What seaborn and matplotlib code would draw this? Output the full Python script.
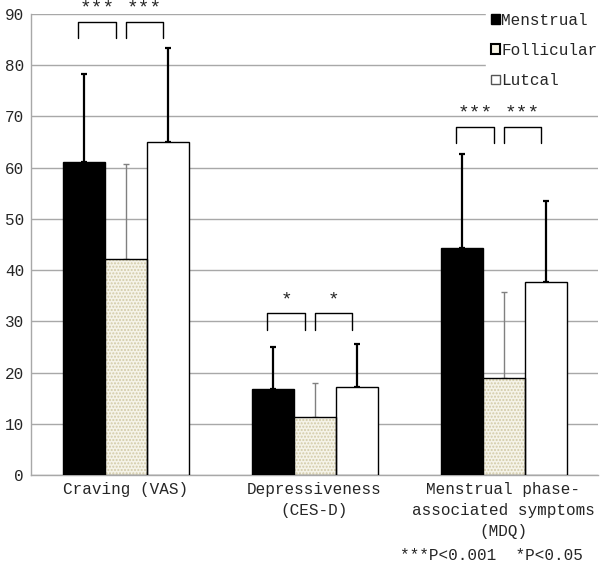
import matplotlib
matplotlib.use('Agg')
import matplotlib.pyplot as plt
from matplotlib.patches import Patch, Rectangle
import pandas as pd
import seaborn as sns

# Values
measures = ['Craving (VAS)', 'Depressiveness\n(CES-D)', 'Menstrual phase-\nassociated symptoms\n(MDQ)']
phases = ['Menstrual', 'Follicular', 'Lutcal']
menstrual_mean = [61.2, 16.8, 44.3]
menstrual_sd = [17.0, 8.2, 18.3]
follicular_mean = [42.1, 11.3, 18.9]
follicular_sd = [18.6, 6.7, 16.9]
luteal_mean = [65.1, 17.2, 37.6]
luteal_sd = [18.3, 8.4, 15.9]

# significance brackets: height of the bar line and star label per measure
bracket_top = [88.5, 31.6, 68.0]
star_labels = ['***', '*', '***']
footnote = '***P<0.001  *P<0.05'

df = pd.DataFrame({
    'measure': measures * 3,
    'phase': [p for p in phases for _ in measures],
    'mean': menstrual_mean + follicular_mean + luteal_mean,
    'sd': menstrual_sd + follicular_sd + luteal_sd,
})

sns.set_style('white')
plt.rcParams['font.family'] = ['Liberation Mono', 'DejaVu Sans Mono']

fig = plt.figure(figsize=(6, 5.69), dpi=100)
ax = fig.add_axes([31 / 600, 1 - 475 / 569, 567 / 600, 461 / 569])

palette = {'Menstrual': 'black', 'Follicular': '#f7f4e6', 'Lutcal': 'white'}
sns.barplot(data=df, x='measure', y='mean', hue='phase', palette=palette,
            width=2 / 3, errorbar=None, edgecolor='black', linewidth=1,
            legend=False, ax=ax, zorder=3)
bar_groups = list(ax.containers)

# dotted fill for follicular bars, then a black outline over it
for bar in bar_groups[1]:
    bar.set_edgecolor('#d2caa8')
    bar.set_hatch('.....')
    bar.set_linewidth(0)
    ax.add_patch(Rectangle(bar.get_xy(), bar.get_width(), bar.get_height(),
                           fill=False, edgecolor='black', lw=1, zorder=4))

# upper-only error bars
sds = [menstrual_sd, follicular_sd, luteal_sd]
means = [menstrual_mean, follicular_mean, luteal_mean]
for i, cont in enumerate(bar_groups):
    xs = [b.get_x() + b.get_width() / 2 for b in cont]
    col = '#808080' if i == 1 else 'black'
    lw = 1 if i == 1 else 1.6
    ax.errorbar(xs, means[i], yerr=[[0] * 3, sds[i]], fmt='none', ecolor=col,
                elinewidth=lw, capsize=2.5, capthick=lw, zorder=2)

# significance brackets
leg = 3.2
for k, top in enumerate(bracket_top):
    for x0, x1 in [(k - 0.25, k - 0.05), (k, k + 0.2)]:
        ax.plot([x0, x0, x1, x1], [top - leg, top, top, top - leg],
                color='black', lw=1, zorder=5, clip_on=False)
        ax.text((x0 + x1) / 2, top + 2.6, star_labels[k], ha='center',
                va='center', fontsize=14, clip_on=False)

ax.set_ylim(0, 90)
ax.set_xlim(-0.5, 2.5)
ax.set_yticks(range(0, 91, 10))
ax.yaxis.grid(True, color='#a8a8a8', lw=1)
ax.set_axisbelow(True)
ax.set_xlabel('')
ax.set_ylabel('')
ax.tick_params(axis='y', length=0, labelsize=11.5, pad=5)
ax.tick_params(axis='x', which='major', length=0, labelsize=11.5, pad=5)
ax.set_xticks([-0.5, 0.5, 1.5, 2.5], minor=True)
ax.tick_params(axis='x', which='minor', length=5, color='#a8a8a8')
for lab in ax.get_xticklabels():
    lab.set_linespacing(1.5)
for s in ['top', 'right']:
    ax.spines[s].set_visible(False)
for s in ['left', 'bottom']:
    ax.spines[s].set_color('#a8a8a8')
    ax.spines[s].set_linewidth(1)

handles = [Patch(facecolor='black', edgecolor='black'),
           Patch(facecolor='#f7f4e6', edgecolor='black', lw=1.5),
           Patch(facecolor='white', edgecolor='#555555')]
lg = fig.legend(handles, phases, loc='upper left',
                bbox_to_anchor=(478 / 600, 1 - 0 / 569), frameon=True,
                fontsize=11.5, handlelength=0.55, handleheight=0.55,
                handletextpad=0.1, labelspacing=0.95, borderpad=0.3,
                fancybox=False)
lg.get_frame().set_edgecolor('white')
lg.get_frame().set_facecolor('white')
lg.get_frame().set_alpha(1)

fig.text(400 / 600, 1 - 556 / 569, footnote, fontsize=11.5, va='center')

fig.savefig('out.png', dpi=100)
